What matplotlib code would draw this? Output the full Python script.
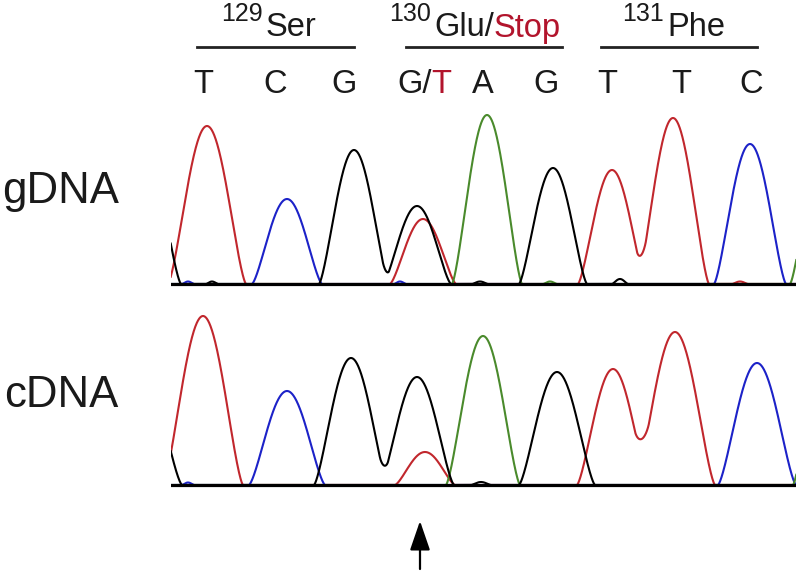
import numpy as np
import matplotlib
matplotlib.use("Agg")
import matplotlib.pyplot as plt
from matplotlib.lines import Line2D

plt.rcParams['font.family'] = ['Liberation Sans', 'DejaVu Sans']

# ---------------- data (peaks) ----------------
# positions in scan units, heights in signal units, half-base widths in scan units
gdna_T_pos = [36, 252, 441, 502, 569]
gdna_T_hgt = [158, 65, 114, 166, 2.5]
gdna_T_wid = [39, 33, 34, 36, 8]
gdna_C_pos = [17, 116, 229, 579]
gdna_C_hgt = [2.5, 85, 2.5, 140]
gdna_C_wid = [6, 35, 6, 36]
gdna_G_pos = [-30, 41, 183, 246, 309, 382, 449]
gdna_G_hgt = [150, 2.5, 134, 78, 2.5, 116, 5]
gdna_G_wid = [40, 6, 35, 34, 8, 34, 8]
gdna_A_pos = [316, 379, 655]
gdna_A_hgt = [169, 2.5, 150]
gdna_A_wid = [35, 7, 36]

cdna_T_pos = [32, 254, 442, 504]
cdna_T_hgt = [169, 33, 116, 153]
cdna_T_wid = [40, 30, 36, 40]
cdna_C_pos = [17, 116, 586]
cdna_C_hgt = [2.5, 94, 122]
cdna_C_wid = [6, 38, 39]
cdna_G_pos = [-30, 180, 246, 310, 386]
cdna_G_hgt = [115, 127, 108, 3, 113]
cdna_G_wid = [41, 37, 37, 10, 38]
cdna_A_pos = [312, 655]
cdna_A_hgt = [149, 140]
cdna_A_wid = [37, 33]

base_calls = ['T', 'C', 'G', 'G/T', 'A', 'G', 'T', 'T', 'C']
codon_numbers = ['129', '130', '131']
codon_names = ['Ser', 'Glu/', 'Phe']
codon_alt = ['', 'Stop', '']
sample_names = ['gDNA', 'cDNA']

# ---------------- style / layout ----------------
W, H = 797, 571
def fx(px): return px / W
def fy(py): return 1 - py / H

col_T = '#c1272d'
col_C = '#1c22c8'
col_G = '#000000'
col_A = '#4a8a2c'
txt_red = '#b2142c'
txt_col = '#1a1a1a'

x = np.linspace(-60, 700, 3041)

def trace(pos, hgt, wid):
    y = np.zeros_like(x)
    for c, h, w in zip(pos, hgt, wid):
        d = np.abs(x - c)
        m = d < w
        y[m] += h * np.cos(np.pi * d[m] / (2 * w)) ** 1.4
    return y

fig = plt.figure(figsize=(W / 100, H / 100), dpi=100)

x0, x1 = 171, 796
panels = [
    (284, [(gdna_T_pos, gdna_T_hgt, gdna_T_wid, col_T),
           (gdna_C_pos, gdna_C_hgt, gdna_C_wid, col_C),
           (gdna_A_pos, gdna_A_hgt, gdna_A_wid, col_A),
           (gdna_G_pos, gdna_G_hgt, gdna_G_wid, col_G)]),
    (485, [(cdna_T_pos, cdna_T_hgt, cdna_T_wid, col_T),
           (cdna_C_pos, cdna_C_hgt, cdna_C_wid, col_C),
           (cdna_A_pos, cdna_A_hgt, cdna_A_wid, col_A),
           (cdna_G_pos, cdna_G_hgt, cdna_G_wid, col_G)]),
]
axes = []
for base_px, chans in panels:
    ylo, yhi = -4, 180
    ax = fig.add_axes([fx(x0), fy(base_px - ylo), (x1 - x0) / W, (yhi - ylo) / H])
    for pos, hgt, wid, col in chans:
        ax.plot(x, trace(pos, hgt, wid), color=col, lw=1.5, zorder=2,
                solid_joinstyle='round')
    ax.axhline(0, color='black', lw=2.3, zorder=5)
    ax.set_xlim(0, x1 - x0)
    ax.set_ylim(ylo, yhi)
    ax.axis('off')
    axes.append(ax)

# sample labels
for name, base_px in zip(sample_names, [203, 407]):
    fig.text(fx(61), fy(base_px), name, ha='center', va='baseline',
             fontsize=31.5, color=txt_col)

# base calls
label_px = [203, 275, 344, 423, 483, 546, 607, 681, 751]
for lab, px in zip(base_calls, label_px):
    if '/' in lab:
        a, b = lab.split('/')
        fig.text(fx(432), fy(93), a + '/', ha='right', va='baseline',
                 fontsize=23.5, color=txt_col)
        fig.text(fx(431), fy(93), b, ha='left', va='baseline',
                 fontsize=23.5, color=txt_red)
    else:
        fig.text(fx(px), fy(93), lab, ha='center', va='baseline',
                 fontsize=23.5, color=txt_col)

# codon labels
codon_left = [266, 434, 667]
line_span = [(197, 354), (406, 562), (601, 757)]
for num, name, alt, left, (la, lb) in zip(codon_numbers, codon_names, codon_alt,
                                          codon_left, line_span):
    fig.text(fx(left - 3), fy(21), num, ha='right', va='baseline',
             fontsize=18, color=txt_col)
    t = fig.text(fx(left), fy(36.5), name, ha='left', va='baseline',
                 fontsize=23.5, color=txt_col)
    if alt:
        fig.canvas.draw()
        bb = t.get_window_extent()
        fig.text(bb.x1 / W, fy(36.5), alt, ha='left', va='baseline',
                 fontsize=23.5, color=txt_red)
    fig.add_artist(Line2D([fx(la), fx(lb)], [fy(47), fy(47)], lw=2.0,
                          color='#222222', transform=fig.transFigure))

# arrow below the mutated position
axes[1].annotate('', xy=(420 - x0, fy(521)), xycoords=('data', 'figure fraction'),
                 xytext=(420 - x0, fy(569)), textcoords=('data', 'figure fraction'),
                 arrowprops=dict(arrowstyle='-|>,head_length=1.8,head_width=0.62',
                                 lw=1.6, color='black', shrinkA=0, shrinkB=0),
                 annotation_clip=False)

fig.savefig('out.png', dpi=100)
